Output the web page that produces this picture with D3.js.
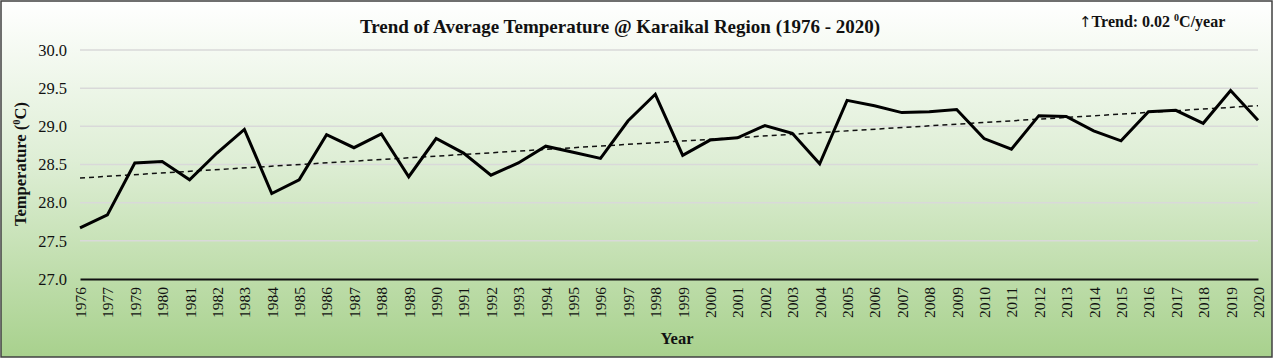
<!DOCTYPE html>
<html><head><meta charset="utf-8">
<script src="https://cdn.jsdelivr.net/npm/d3@7"></script>
<style>html,body{margin:0;padding:0;background:#fff;}svg{display:block;}</style>
</head><body>
<svg id="chart" width="1274" height="360"></svg>
<script>
const years = ["1976","1977","1979","1980","1981","1982","1983","1984","1985","1986","1987","1988","1989","1990","1991","1992","1993","1994","1995","1996","1997","1998","1999","2000","2001","2002","2003","2004","2005","2006","2007","2008","2009","2010","2011","2012","2013","2014","2015","2016","2017","2018","2019","2020"];
const temps = [27.67,27.84,28.52,28.54,28.30,28.65,28.96,28.12,28.30,28.89,28.72,28.90,28.34,28.84,28.65,28.36,28.52,28.74,28.66,28.58,29.07,29.42,28.62,28.82,28.85,29.01,28.91,28.51,29.34,29.27,29.18,29.19,29.22,28.84,28.70,29.14,29.13,28.94,28.81,29.19,29.21,29.04,29.47,29.08];
const yTicks = [27.0,27.5,28.0,28.5,29.0,29.5,30.0];
const titleText = "Trend of Average Temperature @ Karaikal Region (1976 - 2020)";

const W = 1274, H = 360;
const svg = d3.select("#chart");
const defs = svg.append("defs");
const grad = defs.append("linearGradient").attr("id","bg").attr("x1",0).attr("y1",0).attr("x2",0).attr("y2",1);
grad.append("stop").attr("offset","0%").attr("stop-color","#ffffff");
grad.append("stop").attr("offset","45%").attr("stop-color","#deeed5");
grad.append("stop").attr("offset","100%").attr("stop-color","#a8d18d");
svg.append("rect").attr("x",0).attr("y",0).attr("width",W).attr("height",H).attr("fill","#fff");
svg.append("rect").attr("x",1).attr("y",1).attr("width",1271).attr("height",356)
  .attr("fill","url(#bg)").attr("stroke","#404040").attr("stroke-width",1.5);

const x = d3.scalePoint().domain(years).range([80,1258]);
const y = d3.scaleLinear().domain([27,30]).range([279,50]);
const serif = "'Liberation Serif','Times New Roman',serif";

// gridlines
svg.append("g").selectAll("line").data(yTicks.filter(d=>d>27)).join("line")
  .attr("x1",80).attr("x2",1258).attr("y1",d=>y(d)).attr("y2",d=>y(d))
  .attr("stroke","#d9d9d9").attr("stroke-width",1.5);

// y axis labels
const yAxis = d3.axisLeft(y).tickValues(yTicks).tickFormat(d3.format(".1f")).tickSize(0).tickPadding(0);
const gy = svg.append("g").attr("transform","translate(67,0)").call(yAxis);
gy.select(".domain").remove();
gy.selectAll("text").attr("font-family",serif).attr("font-size",16.5).attr("fill","#111");

// x axis
const xAxis = d3.axisBottom(x).tickSize(0).tickPadding(0);
const gx = svg.append("g").attr("transform","translate(0,279)").call(xAxis);
gx.select(".domain").attr("stroke","#111").attr("stroke-width",2);
gx.selectAll("text").attr("font-family",serif).attr("font-size",15.5).attr("fill","#111")
  .attr("transform","rotate(-90)").attr("text-anchor","end").attr("x",-8).attr("y",0).attr("dy","0.35em");

// trend line (least squares)
const n = temps.length;
const idx = d3.range(n);
const mx = d3.mean(idx), my = d3.mean(temps);
const slope = d3.sum(idx, i => (i-mx)*(temps[i]-my)) / d3.sum(idx, i => (i-mx)*(i-mx));
const icpt = my - slope*mx;
svg.append("line")
  .attr("x1",x(years[0])).attr("y1",y(icpt))
  .attr("x2",x(years[n-1])).attr("y2",y(icpt+slope*(n-1)))
  .attr("stroke","#111").attr("stroke-width",1.5).attr("stroke-dasharray","5,4");

// data line
svg.append("path").datum(temps)
  .attr("d", d3.line().x((d,i)=>x(years[i])).y(d=>y(d)))
  .attr("fill","none").attr("stroke","#000").attr("stroke-width",3).attr("stroke-linejoin","miter");

// title
svg.append("text").attr("x",620).attr("y",33).attr("text-anchor","middle")
  .attr("font-family",serif).attr("font-weight","bold").attr("font-size",19).attr("fill","#111").text(titleText);

// trend label
const tl = svg.append("text").attr("x",1079).attr("y",27)
  .attr("font-family",serif).attr("font-weight","bold").attr("font-size",16).attr("fill","#111");
tl.append("tspan").attr("font-family","'DejaVu Sans',sans-serif").attr("font-weight","normal").attr("font-size",15).text("↑");
tl.append("tspan").text("Trend: 0.02 ");
tl.append("tspan").attr("font-size",10).attr("dy",-6).text("0");
tl.append("tspan").attr("dy",6).text("C/year");

// y title
const yt = svg.append("text").attr("transform","translate(26,164) rotate(-90)").attr("text-anchor","middle")
  .attr("font-family",serif).attr("font-weight","bold").attr("font-size",16.5).attr("fill","#111");
yt.append("tspan").text("Temperature (");
yt.append("tspan").attr("font-size",10.5).attr("dy",-6).text("0");
yt.append("tspan").attr("dy",6).text("C)");

// x title
svg.append("text").attr("x",677).attr("y",344).attr("text-anchor","middle")
  .attr("font-family",serif).attr("font-weight","bold").attr("font-size",16.5).attr("fill","#111").text("Year");
</script>
</body></html>
